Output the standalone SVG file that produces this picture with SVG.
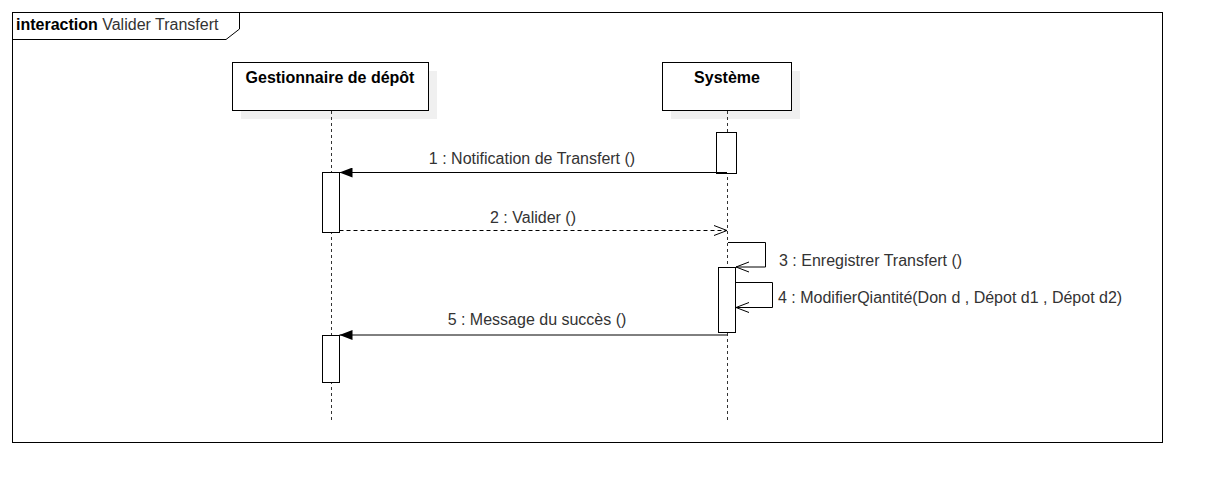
<svg xmlns="http://www.w3.org/2000/svg" width="1212" height="492" viewBox="0 0 1212 492">
<defs>
<style>
.ln{stroke:#000;stroke-width:1;fill:none}
.box{fill:#fff;stroke:#000;stroke-width:1}
.sh{fill:#f0f0f0;stroke:none}
.life{stroke:#333;stroke-width:1;stroke-dasharray:3,3;fill:none}
.t{font-family:"Liberation Sans",Arial,sans-serif;font-size:16px;fill:#333}
.b{font-family:"Liberation Sans",Arial,sans-serif;font-size:16px;font-weight:bold;fill:#000}
</style>
<marker id="fill" markerWidth="14" markerHeight="10" refX="13" refY="5" orient="auto" markerUnits="userSpaceOnUse">
<path d="M0,0 L13,5 L0,10 Z" fill="#000"/>
</marker>
<marker id="open" markerWidth="14" markerHeight="12" refX="13" refY="6" orient="auto" markerUnits="userSpaceOnUse">
<path d="M0,1 L13,6 L0,11" fill="none" stroke="#000" stroke-width="1"/>
</marker>
</defs>
<rect width="1212" height="492" fill="#fff"/>
<g id="frame">
<rect x="12.5" y="12.5" width="1150" height="430" class="ln"/>
<path d="M12.5,12.5 L239.5,12.5 L239.5,29 L226,39.5 L12.5,39.5" class="ln" fill="#fff"/>
<text x="16" y="30" class="b">interaction <tspan style="font-weight:normal" fill="#333">Valider Transfert</tspan></text>
</g>
<g id="gestionnaire">
<rect x="241" y="71" width="196" height="48" class="sh"/>
<rect x="232.5" y="62.5" width="196" height="48" class="box"/>
<text x="330" y="83" class="b" text-anchor="middle">Gestionnaire de dépôt</text>
<line x1="331.5" y1="111" x2="331.5" y2="422" class="life"/>
<rect x="322.5" y="172.5" width="17" height="60" class="box"/>
<rect x="322.5" y="335.5" width="17" height="47" class="box"/>
</g>
<g id="systeme">
<rect x="671" y="71" width="129" height="48" class="sh"/>
<rect x="662.5" y="62.5" width="129" height="48" class="box"/>
<text x="727" y="83" class="b" text-anchor="middle">Système</text>
<line x1="727.5" y1="111" x2="727.5" y2="422" class="life"/>
<rect x="716.5" y="132.5" width="20" height="41" class="box"/>
<rect x="718.5" y="267.5" width="17" height="65" class="box"/>
</g>
<g id="connectors">
<line x1="727" y1="172.5" x2="339.5" y2="172.5" class="ln" marker-end="url(#fill)"/>
<text x="532" y="164" class="t" text-anchor="middle">1 : Notification de Transfert ()</text>
<line x1="339.5" y1="230.5" x2="727" y2="230.5" class="ln" stroke-dasharray="4,3" marker-end="url(#open)"/>
<text x="533" y="223" class="t" text-anchor="middle">2 : Valider ()</text>
<path d="M728,242.5 L765.5,242.5 L765.5,267 L736,267" class="ln" marker-end="url(#open)"/>
<text x="779" y="266" class="t">3 : Enregistrer Transfert ()</text>
<path d="M736,282.5 L772.5,282.5 L772.5,307.5 L736,307.5" class="ln" marker-end="url(#open)"/>
<text x="778" y="303" class="t">4 : ModifierQiantité(Don d , Dépot d1 , Dépot d2)</text>
<line x1="727" y1="335" x2="339.5" y2="335" class="ln" marker-end="url(#fill)"/>
<text x="537" y="325" class="t" text-anchor="middle">5 : Message du succès ()</text>
</g>
</svg>
